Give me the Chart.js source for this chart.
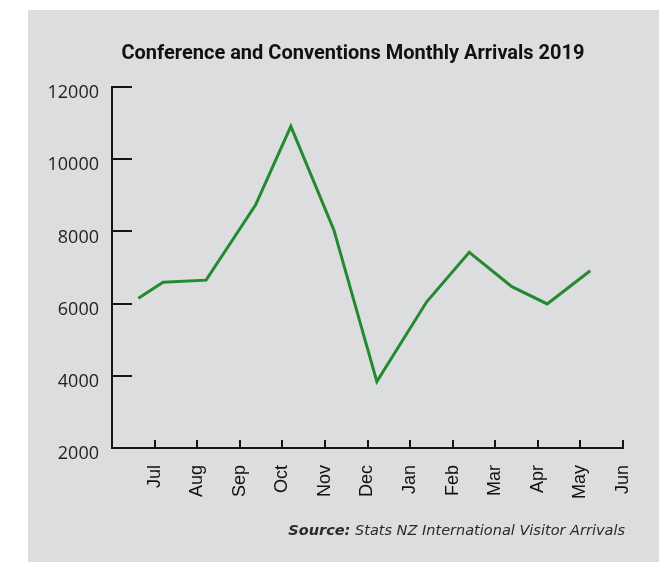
<!DOCTYPE html>
<html>
<head>
<meta charset="utf-8">
<script src="https://cdn.jsdelivr.net/npm/chart.js@4/dist/chart.umd.min.js"></script>
<style>
  html, body { margin: 0; padding: 0; background: #ffffff; width: 665px; height: 562px; overflow: hidden; position: relative; }
  #panel { position: absolute; left: 28px; top: 10px; width: 631px; height: 552px; background: #dcdddf; }
  #wrap { position: absolute; left: 0px; top: 0px; width: 665px; height: 562px; }
  #source { position: absolute; right: 40px; top: 521px; font-family: "DejaVu Sans", sans-serif; font-style: italic; font-size: 14.5px; line-height: 18px; color: #2a2a2a; white-space: nowrap; }
  #source b { font-weight: 700; }
</style>
</head>
<body>
<div id="panel"></div>
<div id="wrap"><canvas id="c" width="665" height="562"></canvas></div>
<div id="source"><b>Source:</b> Stats NZ International Visitor Arrivals</div>
<script>
// ---- data ----
const chartTitle = 'Conference and Conventions Monthly Arrivals 2019';
const tickLabels = ['Jul', 'Aug', 'Sep', 'Oct', 'Nov', 'Dec', 'Jan', 'Feb', 'Mar', 'Apr', 'May', 'Jun'];
// position of each observation along the month axis (0 = start of June)
const monthPos = [0.62, 1.2, 2.21, 3.37, 4.2, 5.21, 6.22, 7.39, 8.39, 9.39, 10.22, 11.23];
const arrivals = [6150, 6590, 6650, 8730, 10910, 8040, 3840, 6050, 7420, 6470, 5990, 6910];
const yTicks = [2000, 4000, 6000, 8000, 10000, 12000];

const points = monthPos.map((m, i) => ({ x: m, y: arrivals[i] }));
const axisColor = '#151515';

const innerTicks = {
  id: 'innerTicks',
  afterDraw(chart) {
    const ctx = chart.ctx;
    const area = chart.chartArea;
    const xs = chart.scales.x, ys = chart.scales.y;
    ctx.save();
    ctx.strokeStyle = axisColor;
    ctx.lineWidth = 2;
    ys.ticks.forEach(t => {
      const py = Math.round(ys.getPixelForValue(t.value));
      ctx.beginPath();
      ctx.moveTo(area.left, py);
      ctx.lineTo(area.left + 20, py);
      ctx.stroke();
    });
    xs.ticks.forEach(t => {
      if (t.value === 0) return;
      const px = Math.round(xs.getPixelForValue(t.value));
      ctx.beginPath();
      ctx.moveTo(px, area.bottom);
      ctx.lineTo(px, area.bottom - 8);
      ctx.stroke();
    });
    ctx.restore();
  }
};

new Chart(document.getElementById('c'), {
  type: 'line',
  data: {
    datasets: [{
      data: points,
      borderColor: '#238a30',
      borderWidth: 3,
      pointRadius: 0,
      tension: 0,
      fill: false
    }]
  },
  options: {
    responsive: false,
    animation: false,
    events: [],
    layout: { padding: { left: 44, right: 3, top: 0, bottom: 54 } },
    plugins: {
      legend: { display: false },
      tooltip: { enabled: false },
      title: {
        display: true,
        text: chartTitle,
        color: '#111111',
        font: { family: 'Roboto, "Liberation Sans", sans-serif', size: 20, weight: '700', lineHeight: 1.2 },
        padding: { top: 42, bottom: 21 }
      }
    },
    scales: {
      x: {
        type: 'linear',
        min: 0,
        max: 12,
        afterFit(scale) { scale.height = 60; scale.paddingLeft = 0; scale.paddingRight = 42; },
        afterBuildTicks(scale) { scale.ticks = tickLabels.map((_, i) => ({ value: i })).concat([{ value: 12 }]); },
        grid: { display: false, drawTicks: false },
        border: { display: true, color: axisColor, width: 2 },
        ticks: {
          autoSkip: false,
          maxRotation: 90,
          minRotation: 90,
          padding: 17,
          color: '#111111',
          font: { family: '"Liberation Sans", Arial, sans-serif', size: 18 },
          callback: (v) => (v === 0 ? '' : tickLabels[v - 1])
        }
      },
      y: {
        min: 2000,
        max: 12000,
        afterFit(scale) { scale.width = 68; },
        afterBuildTicks(scale) { scale.ticks = yTicks.map(v => ({ value: v })); },
        grid: { display: false, drawTicks: false },
        border: { display: true, color: axisColor, width: 2 },
        ticks: {
          padding: 13,
          labelOffset: 6,
          color: '#222222',
          font: { family: '"Open Sans", sans-serif', size: 18 },
          callback: (v) => String(v)
        }
      }
    }
  },
  plugins: [innerTicks]
});
</script>
</body>
</html>
